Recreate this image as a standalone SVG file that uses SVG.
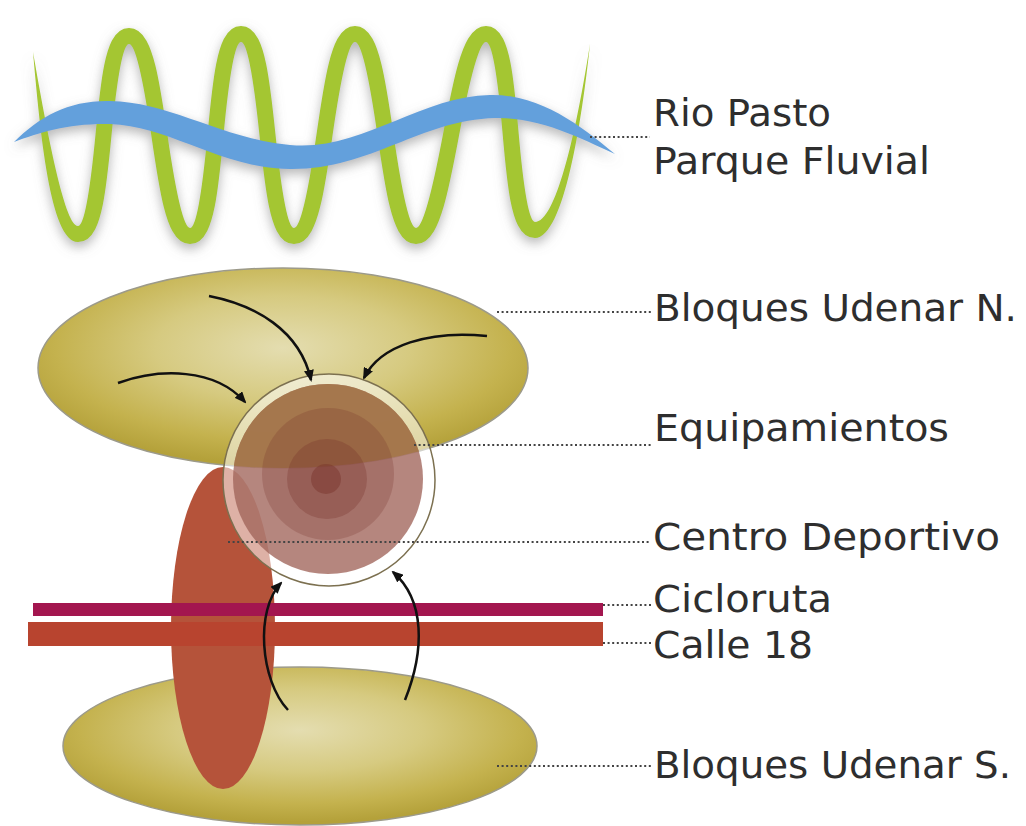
<svg xmlns="http://www.w3.org/2000/svg" width="1026" height="826" viewBox="0 0 1026 826">
<style>
.lbl{font-family:"DejaVu Sans","Liberation Sans",sans-serif;font-size:37px;fill:#2e2e2e}
.lead{stroke:#444;stroke-width:2;stroke-dasharray:2 2.6;fill:none}
.arr{stroke:#111;stroke-width:2.5;fill:none;marker-end:url(#ah)}
.dk{fill:rgb(120,50,42)}
</style>
<defs>
<filter id="glow" x="-10%" y="-20%" width="120%" height="140%">
<feGaussianBlur in="SourceAlpha" stdDeviation="6" result="b"/>
<feOffset in="b" dx="0" dy="5" result="o"/>
<feFlood flood-color="#7a7a7a" flood-opacity="0.55"/>
<feComposite in2="o" operator="in" result="s"/>
<feMerge><feMergeNode in="s"/><feMergeNode in="SourceGraphic"/></feMerge>
</filter>
<radialGradient id="yel" cx="0.5" cy="0.4" r="0.58">
<stop offset="0" stop-color="#e4ddb0"/>
<stop offset="0.45" stop-color="#d6ca80"/>
<stop offset="0.8" stop-color="#c4b24e"/>
<stop offset="1" stop-color="#b4a13a"/>
</radialGradient>
<clipPath id="clipN"><ellipse cx="283" cy="368" rx="245" ry="100"/></clipPath>
<marker id="ah" viewBox="0 0 12 10" refX="10" refY="5" markerWidth="12" markerHeight="10" markerUnits="userSpaceOnUse" orient="auto">
<path d="M0,0 L12,5 L0,10 z" fill="#111"/>
</marker>
</defs>

<g id="river" filter="url(#glow)">
<path d="M78,234 C110,234 97,36 129,36 C161,36 158,236 190,236 C222,236 209,34 241,34 C273,34 262,236 294,236 C326,236 323,34 355,34 C387,34 384,236 416,236 C448,236 454,34 486,34 C518,34 503,230 535,230" fill="none" stroke="#a4c630" stroke-width="16"/>
<path d="M33,52 C40,130 50,242 78,242 L78,226 C66,226 50,150 33,52 Z" fill="#a4c630"/>
<path d="M590,44 C582,120 564,238 535,238 L535,222 C555,222 575,140 590,44 Z" fill="#a4c630"/>
<path d="M14,142 C40,116 70,100 110,101 C170,102 220,138 290,145 C360,152 420,96 490,95 C540,94 580,125 615,154 C580,138 540,117 495,118 C420,120 370,170 290,169 C220,168 170,126 110,124 C70,123 40,132 14,142 Z" fill="#64a0dc"/>
</g>

<g id="bloques-n">
<ellipse cx="283" cy="368" rx="245" ry="100" fill="url(#yel)" stroke="#9c9a8a" stroke-width="1.5"/>
</g>
<g id="bloques-s">
<ellipse cx="300" cy="746" rx="237" ry="79" fill="url(#yel)" stroke="#9c9a8a" stroke-width="1.5"/>
</g>
<g id="eje-rojo">
<ellipse cx="223" cy="628" rx="52" ry="161" fill="#b5533a"/>
</g>
<g id="cicloruta">
<rect x="33" y="603" width="570" height="13" fill="#a3164f"/>
</g>
<g id="calle18">
<rect x="28" y="622" width="575" height="24" fill="#b8442f"/>
</g>
<g id="centro">
<circle cx="329" cy="480" r="106" fill="#fff" fill-opacity="0.55" stroke="#7c7050" stroke-width="1.5"/>
<circle cx="328" cy="479" r="95" fill="rgb(160,100,90)" fill-opacity="0.78"/>
<circle cx="328" cy="479" r="95" fill="#a4764a" fill-opacity="0.92" clip-path="url(#clipN)"/>
<circle class="dk" cx="328" cy="474" r="66" fill-opacity="0.25"/>
<circle class="dk" cx="327" cy="479" r="40" fill-opacity="0.3"/>
<circle class="dk" cx="326" cy="479" r="15" fill-opacity="0.45"/>
</g>

<g id="connectors">
<path class="arr" d="M118,383 C160,368 215,368 245,402"/>
<path class="arr" d="M209,296 C255,305 300,330 311,380"/>
<path class="arr" d="M487,336 C430,330 380,345 364,378"/>
<path class="arr" d="M288,710 C260,680 255,610 281,583"/>
<path class="arr" d="M405,700 C425,650 425,600 393,572"/>
<path class="lead" d="M590,137 H650"/>
<path class="lead" d="M497,312 H651"/>
<path class="lead" d="M414,445 H651"/>
<path class="lead" d="M228,542 H651"/>
<path class="lead" d="M603,605 H651"/>
<path class="lead" d="M603,643 H651"/>
<path class="lead" d="M497,766 H651"/>
</g>

<g id="labels">
<text class="lbl" x="653" y="126" textLength="178" lengthAdjust="spacingAndGlyphs">Rio Pasto</text>
<text class="lbl" x="653" y="174" textLength="277" lengthAdjust="spacingAndGlyphs">Parque Fluvial</text>
<text class="lbl" x="654" y="321" textLength="363" lengthAdjust="spacingAndGlyphs">Bloques Udenar N.</text>
<text class="lbl" x="654" y="441" textLength="295" lengthAdjust="spacingAndGlyphs">Equipamientos</text>
<text class="lbl" x="653" y="550" textLength="347" lengthAdjust="spacingAndGlyphs">Centro Deportivo</text>
<text class="lbl" x="653" y="612" textLength="179" lengthAdjust="spacingAndGlyphs">Cicloruta</text>
<text class="lbl" x="653" y="658" textLength="160" lengthAdjust="spacingAndGlyphs">Calle 18</text>
<text class="lbl" x="654" y="778" textLength="357" lengthAdjust="spacingAndGlyphs">Bloques Udenar S.</text>
</g>
</svg>
